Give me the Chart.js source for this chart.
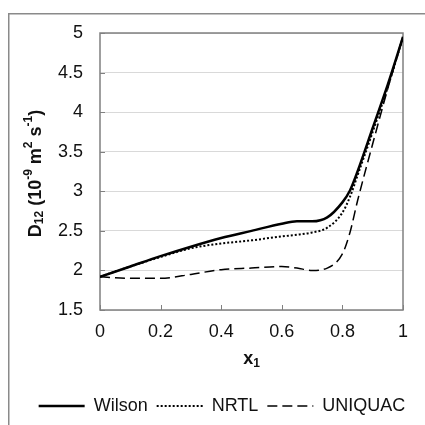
<!DOCTYPE html>
<html>
<head>
<meta charset="utf-8">
<script src="https://cdn.jsdelivr.net/npm/chart.js@4"></script>
<style>
    html, body { margin: 0; padding: 0; background: #fff; overflow: hidden; }
    canvas { display: block; }
</style>
</head>
<body>
<canvas id="diffChart" width="425" height="425"></canvas>
<script>
// Data
const xValues = [0, 0.1, 0.2, 0.3, 0.4, 0.5, 0.6, 0.65, 0.7, 0.75, 0.8, 0.825, 0.85, 0.9, 0.95, 1.0];
const wilson = [1.92, 2.05, 2.18, 2.30, 2.41, 2.50, 2.59, 2.62, 2.62, 2.67, 2.86, 3.01, 3.25, 3.80, 4.35, 4.95];
const nrtl = [1.92, 2.05, 2.17, 2.28, 2.34, 2.38, 2.43, 2.45, 2.48, 2.54, 2.73, 2.93, 3.20, 3.75, 4.32, 4.95];
const uniquac = [1.92, 1.90, 1.90, 1.95, 2.01, 2.03, 2.05, 2.03, 2.00, 2.03, 2.21, 2.48, 2.88, 3.60, 4.30, 4.95];
const xTicks = [0, 0.2, 0.4, 0.6, 0.8, 1];
const yTicks = [1.5, 2, 2.5, 3, 3.5, 4, 4.5, 5];

const axisColor = '#808080';
const gridColor = '#d9d9d9';
const txtColor = '#111';
const fontFamily = '"Liberation Sans", Arial, sans-serif';

const toPoints = (ys) => xValues.map((x, i) => ({ x: x, y: ys[i] }));

// draws the outer frame, plot frame, inside tick marks and the rich axis titles
const framePlugin = {
    id: 'framePlugin',
    beforeDraw(chart) {
        const ctx = chart.ctx;
        ctx.save();
        ctx.fillStyle = '#fff';
        ctx.fillRect(0, 0, chart.width, chart.height);
        ctx.strokeStyle = '#8a8a8a';
        ctx.lineWidth = 1.5;
        ctx.beginPath();
        ctx.moveTo(8.75, chart.height);
        ctx.lineTo(8.75, 13.75);
        ctx.lineTo(chart.width, 13.75);
        ctx.stroke();
        ctx.restore();
    },
    beforeDatasetsDraw(chart) {
        const { ctx, chartArea: a, scales } = chart;
        ctx.save();
        ctx.strokeStyle = axisColor;
        ctx.lineWidth = 1.5;
        ctx.strokeRect(a.left, a.top, a.right - a.left, a.bottom - a.top);
        ctx.lineWidth = 1;
        ctx.beginPath();
        xTicks.forEach(v => {
            const px = Math.round(scales.x.getPixelForValue(v)) + 0.5;
            ctx.moveTo(px, a.bottom);
            ctx.lineTo(px, a.bottom - 5);
        });
        yTicks.forEach(v => {
            const py = Math.round(scales.y.getPixelForValue(v)) + 0.5;
            ctx.moveTo(a.left, py);
            ctx.lineTo(a.left + 5, py);
        });
        ctx.stroke();
        ctx.restore();
    },
    afterDraw(chart) {
        const { ctx, chartArea: a } = chart;
        const big = 'bold 18px ' + fontFamily;
        const small = 'bold 12px ' + fontFamily;

        // y title: D12 (10-9 m2 s-1)
        const parts = [
            { t: 'D', f: big, dy: 0 },
            { t: '12', f: small, dy: 4 },
            { t: ' (10', f: big, dy: 0 },
            { t: '-9', f: small, dy: -7 },
            { t: ' m', f: big, dy: 0 },
            { t: '2', f: small, dy: -7 },
            { t: ' s', f: big, dy: 0 },
            { t: '-1', f: small, dy: -7 },
            { t: ')', f: big, dy: 0 }
        ];
        ctx.save();
        ctx.fillStyle = txtColor;
        ctx.textBaseline = 'middle';
        ctx.textAlign = 'left';
        let total = 0;
        parts.forEach(p => { ctx.font = p.f; total += ctx.measureText(p.t).width; });
        ctx.translate(36, (a.top + a.bottom) / 2 + 2);
        ctx.rotate(-Math.PI / 2);
        let cx = -total / 2;
        parts.forEach(p => {
            ctx.font = p.f;
            ctx.fillText(p.t, cx, p.dy);
            cx += ctx.measureText(p.t).width;
        });
        ctx.restore();

        // x title: x1
        ctx.save();
        ctx.fillStyle = txtColor;
        ctx.textBaseline = 'middle';
        ctx.textAlign = 'left';
        ctx.font = 'bold 18px ' + fontFamily;
        const w1 = ctx.measureText('x').width;
        ctx.font = 'bold 12px ' + fontFamily;
        const w2 = ctx.measureText('1').width;
        const x0 = (a.left + a.right) / 2 - (w1 + w2) / 2;
        ctx.font = 'bold 18px ' + fontFamily;
        ctx.fillText('x', x0, 359);
        ctx.font = 'bold 12px ' + fontFamily;
        ctx.fillText('1', x0 + w1, 364);
        ctx.restore();
    }
};

const datasets = [
    {
        label: 'Wilson',
        data: toPoints(wilson),
        borderColor: '#000',
        borderWidth: 2.5,
        pointRadius: 0,
        cubicInterpolationMode: 'monotone',
        fill: false
    },
    {
        label: 'NRTL',
        data: toPoints(nrtl),
        borderColor: '#000',
        borderWidth: 2,
        borderDash: [2, 2],
        pointRadius: 0,
        cubicInterpolationMode: 'monotone',
        fill: false
    },
    {
        label: 'UNIQUAC',
        data: toPoints(uniquac),
        borderColor: '#000',
        borderWidth: 1.5,
        borderDash: [10, 5],
        pointRadius: 0,
        cubicInterpolationMode: 'monotone',
        fill: false
    }
];

const config = {
    type: 'line',
    data: { datasets: datasets },
    options: {
        responsive: false,
        animation: false,
        layout: { padding: { left: 19, right: 0, top: 33, bottom: 0 } },
        scales: {
            x: {
                type: 'linear',
                min: 0,
                max: 1,
                afterBuildTicks: (scale) => { scale.ticks = xTicks.map(v => ({ value: v })); },
                afterFit: (scale) => { scale.height = 78; },
                ticks: {
                    color: txtColor,
                    font: { family: fontFamily, size: 18 },
                    padding: 11,
                    maxRotation: 0,
                    callback: (v) => String(v)
                },
                grid: { display: false, drawTicks: false },
                border: { display: false }
            },
            y: {
                min: 1.5,
                max: 5,
                afterBuildTicks: (scale) => { scale.ticks = yTicks.map(v => ({ value: v })); },
                afterFit: (scale) => { scale.width = 81; },
                ticks: {
                    color: txtColor,
                    font: { family: fontFamily, size: 18 },
                    padding: 17,
                    callback: (v) => String(v)
                },
                grid: { color: gridColor, lineWidth: 1, drawTicks: false },
                border: { display: false }
            },
            // empty right axis, only keeps the plot clear of the right edge
            yRight: {
                position: 'right',
                min: 1.5,
                max: 5,
                afterFit: (scale) => { scale.width = 22; },
                ticks: { display: false },
                grid: { display: false, drawTicks: false },
                border: { display: false }
            }
        },
        plugins: {
            legend: {
                display: true,
                position: 'bottom',
                labels: {
                    color: txtColor,
                    font: { family: fontFamily, size: 18 },
                    usePointStyle: true,
                    pointStyleWidth: 46,
                    padding: 9,
                    generateLabels: (chart) => chart.data.datasets.map((ds, i) => ({
                        text: ds.label,
                        fillStyle: ds.borderColor,
                        strokeStyle: ds.borderColor,
                        lineWidth: ds.borderWidth,
                        lineDash: ds.borderDash || [],
                        lineCap: 'butt',
                        pointStyle: 'line',
                        fontColor: txtColor,
                        hidden: false,
                        datasetIndex: i
                    }))
                }
            },
            tooltip: { enabled: false }
        }
    },
    plugins: [framePlugin]
};

const ctx = document.getElementById('diffChart').getContext('2d');
const diffChart = new Chart(ctx, config);
</script>
</body>
</html>
